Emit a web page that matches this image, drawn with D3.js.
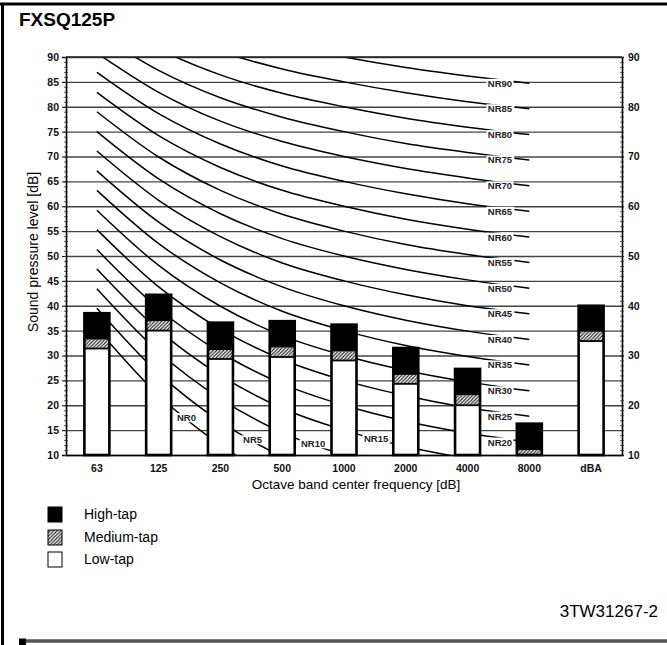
<!DOCTYPE html>
<html><head><meta charset="utf-8">
<script src="https://cdn.jsdelivr.net/npm/d3@7"></script>
<style>
body{margin:0;background:#fff;}
svg{display:block;font-family:Arial,"Liberation Sans",sans-serif;}
</style></head><body>
<svg id="c" width="667" height="645"></svg>
<script>
// ---------- data ----------
const chartTitle = "FXSQ125P";
const figureCode = "3TW31267-2";
const categories = ["63","125","250","500","1000","2000","4000","8000","dBA"];
const lowTap    = [31.4, 35.0, 29.3, 29.7, 29.0, 24.3, 20.0, 10.0, 32.9];
const mediumTap = [33.2, 36.9, 31.1, 31.6, 30.8, 26.1, 22.0, 11.0, 34.8];
const highTap   = [38.5, 42.2, 36.6, 36.9, 36.2, 31.5, 27.3, 16.3, 40.0];
const yTicksLeft  = [10,15,20,25,30,35,40,45,50,55,60,65,70,75,80,85,90];
const yTicksRight = [10,20,30,40,50,60,70,80,90];
const legendLabels = ["High-tap","Medium-tap","Low-tap"];
const nrBands = ["63","125","250","500","1000","2000","4000","8000"];
const nrLevels = [0,5,10,15,20,25,30,35,40,45,50,55,60,65,70,75,80,85,90];
const nrValues = [
  [35.5, 22.0, 12.0, 4.8, 0, -3.5, -6.1, -8.0],
  [39.5, 26.4, 16.7, 9.7, 5, 1.6, -1.0, -2.9],
  [43.4, 30.7, 21.3, 14.5, 10, 6.7, 4.2, 2.3],
  [47.4, 35.1, 26.0, 19.4, 15, 11.7, 9.3, 7.5],
  [51.3, 39.4, 30.6, 24.3, 20, 16.8, 14.4, 12.6],
  [55.3, 43.8, 35.3, 29.2, 25, 21.9, 19.5, 17.8],
  [59.2, 48.1, 39.9, 34.0, 30, 27.0, 24.7, 22.9],
  [63.2, 52.5, 44.6, 38.9, 35, 32.0, 29.8, 28.1],
  [67.1, 56.8, 49.2, 43.8, 40, 37.1, 34.9, 33.2],
  [71.1, 61.2, 53.9, 48.6, 45, 42.2, 40.0, 38.4],
  [75.0, 65.5, 58.5, 53.5, 50, 47.3, 45.2, 43.5],
  [79.0, 69.9, 63.2, 58.4, 55, 52.3, 50.3, 48.7],
  [82.9, 74.2, 67.8, 63.2, 60, 57.4, 55.4, 53.8],
  [86.9, 78.6, 72.5, 68.1, 65, 62.5, 60.5, 59.0],
  [90.8, 82.9, 77.1, 73.0, 70, 67.6, 65.7, 64.1],
  [94.8, 87.3, 81.8, 77.9, 75, 72.6, 70.8, 69.3],
  [98.7, 91.6, 86.4, 82.7, 80, 77.7, 75.9, 74.4],
  [102.7, 96.0, 91.1, 87.6, 85, 82.8, 81.0, 79.6],
  [106.6, 100.3, 95.7, 92.5, 90, 87.9, 86.2, 84.7]
];
// label placement along the lower curves (fractional band index)
const nrLowLabelPos = {0:1.45, 5:2.52, 10:3.5, 15:4.52};

// ---------- layout ----------
const svg = d3.select("#c");
const W = 667, H = 645;
const P = {l:66, r:622, t:57, b:455};
const x = d3.scaleBand().domain(categories).range([P.l, P.r]);
const y = d3.scaleLinear().domain([10, 90]).range([P.b, P.t]);
const xc = c => x(c) + x.bandwidth()/2;
const xi = k => x(categories[0]) + x.bandwidth()*(k + 0.5);

const defs = svg.append("defs");
const pat = defs.append("pattern").attr("id","hatch").attr("patternUnits","userSpaceOnUse")
  .attr("width",3.5).attr("height",3.5);
pat.append("rect").attr("width",3.5).attr("height",3.5).attr("fill","#fff");
pat.append("path").attr("d","M-1,1 L1,-1 M0,3.5 L3.5,0 M2.5,4.5 L4.5,2.5")
  .attr("stroke","#222").attr("stroke-width",1.1);
defs.append("clipPath").attr("id","plotclip").append("rect")
  .attr("x",P.l).attr("y",P.t).attr("width",P.r-P.l).attr("height",P.b-P.t);

svg.append("rect").attr("width",W).attr("height",H).attr("fill","#fff");

// frame
svg.append("line").attr("x1",0).attr("x2",W).attr("y1",4).attr("y2",4).attr("stroke","#000").attr("stroke-width",3);
svg.append("line").attr("x1",2.5).attr("x2",2.5).attr("y1",3).attr("y2",H).attr("stroke","#000").attr("stroke-width",3);
svg.append("line").attr("x1",19).attr("x2",W).attr("y1",641).attr("y2",641).attr("stroke","#555").attr("stroke-width",3.5);
svg.append("rect").attr("x",19).attr("y",638.5).attr("width",7).attr("height",7).attr("fill","#000");

// title
svg.append("text").attr("x",19).attr("y",26).attr("font-size",19).attr("font-weight","bold")
  .text(chartTitle);

// gridlines (via axis)
const grid = svg.append("g").attr("transform",`translate(${P.l},0)`)
  .call(d3.axisLeft(y).tickValues(yTicksLeft).tickSize(-(P.r-P.l)).tickFormat(""));
grid.select(".domain").remove();
grid.selectAll("line").attr("stroke","#444").attr("stroke-width",1.3);

// NR curves
const line = d3.line().x((d,i)=>xi(i)).y(d=>y(d)).curve(d3.curveMonotoneX);
const curves = svg.append("g").attr("clip-path","url(#plotclip)");
nrValues.forEach(vals=>{
  curves.append("path").attr("d",line(vals)).attr("fill","none")
    .attr("stroke","#000").attr("stroke-width",1.5);
});

// NR labels
const labG = svg.append("g");
function addLabel(tx, ty, str){
  const g = labG.append("g");
  const t = g.append("text").attr("x",tx).attr("y",ty).attr("text-anchor","middle")
    .attr("dominant-baseline","central").attr("font-size",9.5).attr("font-weight","bold")
    .attr("fill","#222").text(str);
  const bb = t.node().getBBox();
  g.insert("rect","text").attr("x",bb.x-1.5).attr("y",bb.y+1).attr("width",bb.width+3)
    .attr("height",bb.height-2).attr("fill","#fff");
}
nrLevels.forEach((lv,j)=>{
  const vals = nrValues[j];
  if (lv in nrLowLabelPos){
    const k = nrLowLabelPos[lv];
    const k0 = Math.floor(k), f = k-k0;
    const v = vals[k0] + (vals[k0+1]-vals[k0])*f;
    addLabel(xi(k), y(v), "NR"+lv);
  } else {
    addLabel(xi(6.525), y(vals[7]), "NR"+lv);
  }
});

// bars
const bw = 25;
const bars = svg.append("g");
categories.forEach((c,i)=>{
  const bx = xc(c) - bw/2;
  bars.append("rect").attr("x",bx).attr("y",y(lowTap[i])).attr("width",bw)
    .attr("height",y(10)-y(lowTap[i])).attr("fill","#fff");
  bars.append("rect").attr("x",bx).attr("y",y(mediumTap[i])).attr("width",bw)
    .attr("height",y(lowTap[i])-y(mediumTap[i])).attr("fill","url(#hatch)");
  bars.append("rect").attr("x",bx).attr("y",y(highTap[i])).attr("width",bw)
    .attr("height",y(mediumTap[i])-y(highTap[i])).attr("fill","#000");
  if (lowTap[i] > 10)
    bars.append("line").attr("x1",bx).attr("x2",bx+bw).attr("y1",y(lowTap[i])).attr("y2",y(lowTap[i]))
      .attr("stroke","#000").attr("stroke-width",1.8);
  bars.append("rect").attr("x",bx).attr("y",y(highTap[i])).attr("width",bw)
    .attr("height",y(10)-y(highTap[i])).attr("fill","none").attr("stroke","#000").attr("stroke-width",2.6);
});

// axes
const minorVals = d3.range(10, 91, 1);
const aL = svg.append("g").attr("transform",`translate(${P.l},0)`)
  .call(d3.axisLeft(y).tickValues(yTicksLeft).tickSize(4).tickPadding(3));
aL.select(".domain").attr("stroke","#000").attr("stroke-width",1.6);
aL.selectAll("text").attr("font-size",10.5).attr("font-weight","bold").attr("fill","#111")
  .attr("font-family","Arial, 'Liberation Sans', sans-serif");
const mL = svg.append("g").attr("transform",`translate(${P.l+2},0)`)
  .call(d3.axisLeft(y).tickValues(minorVals).tickSize(4).tickFormat(""));
mL.select(".domain").remove();
mL.selectAll("line").attr("stroke","#333").attr("stroke-width",0.8);

const aR = svg.append("g").attr("transform",`translate(${P.r},0)`)
  .call(d3.axisRight(y).tickValues(yTicksRight).tickSize(2).tickPadding(4));
aR.select(".domain").attr("stroke","#000").attr("stroke-width",1.6);
aR.selectAll("text").attr("font-size",10.5).attr("font-weight","bold").attr("fill","#111")
  .attr("font-family","Arial, 'Liberation Sans', sans-serif");
const mR = svg.append("g").attr("transform",`translate(${P.r-2},0)`)
  .call(d3.axisRight(y).tickValues(minorVals).tickSize(4).tickFormat(""));
mR.select(".domain").remove();
mR.selectAll("line").attr("stroke","#333").attr("stroke-width",0.8);

const aB = svg.append("g").attr("transform",`translate(0,${P.b})`)
  .call(d3.axisBottom(x).tickSize(0).tickPadding(10));
aB.select(".domain").attr("stroke","#000").attr("stroke-width",1.6);
aB.selectAll("text").attr("font-size",10.5).attr("font-weight","bold").attr("fill","#111")
  .attr("font-family","Arial, 'Liberation Sans', sans-serif");

// top border of plot
svg.append("line").attr("x1",P.l).attr("x2",P.r).attr("y1",P.t).attr("y2",P.t)
  .attr("stroke","#222").attr("stroke-width",1.6);

// axis titles
svg.append("text").attr("x",356).attr("y",489).attr("text-anchor","middle")
  .attr("font-size",13.5).text("Octave band center frequency [dB]");
svg.append("text").attr("transform","translate(38,252) rotate(-90)").attr("text-anchor","middle")
  .attr("font-size",14).text("Sound pressure level [dB]");

// legend
const legY = [507, 530, 552];
const legFill = ["#000","url(#hatch)","#fff"];
legendLabels.forEach((lab,i)=>{
  svg.append("rect").attr("x",48).attr("y",legY[i]).attr("width",14).attr("height",15)
    .attr("fill",legFill[i]).attr("stroke","#000").attr("stroke-width",1);
  svg.append("text").attr("x",84).attr("y",legY[i]+12).attr("font-size",14).text(lab);
});

// figure code
svg.append("text").attr("x",658).attr("y",617).attr("text-anchor","end")
  .attr("font-size",17).text(figureCode);
</script>
</body></html>
